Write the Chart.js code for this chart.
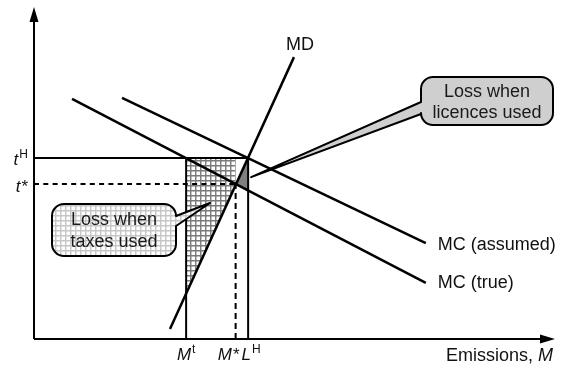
<!DOCTYPE html>
<html><head><meta charset="utf-8">
<script src="https://cdn.jsdelivr.net/npm/chart.js@4.4.0/dist/chart.umd.min.js"></script>
<style>html,body{margin:0;padding:0;background:#fff}#wrap{width:564px;height:365px;position:relative}</style>
</head><body><div id="wrap"><canvas id="c"></canvas></div>
<script>
// ---------- data (chart units) ----------
const X_MAX = 100, Y_MAX = 100;
const mdLine        = [{x:26.1,y:3.0},{x:49.9,y:84.9}];
const mcAssumedLine = [{x:16.9,y:72.6},{x:75.2,y:28.9}];
const mcTrueLine    = [{x:7.3,y:72.3},{x:75.2,y:16.9}];
const tH = 54.5, tStar = 46.7;
const mT = 29.2, mStar = 38.7, lH = 41.1;
const yTickLabels = [{base:'t',mark:'H',sup:true,value:tH},{base:'t',mark:'*',sup:false,value:tStar}];
const xTickLabels = [{base:'M',mark:'t',sup:true,value:mT},{base:'M',mark:'*',sup:false,value:mStar},{base:'L',mark:'H',sup:true,value:lH}];
const curveLabels = ['MD','MC (assumed)','MC (true)'];
const axisTitle = ['Emissions, ','M'];
const licencesText = ['Loss when','licences used'];
const taxesText = ['Loss when','taxes used'];

// ---------- helpers ----------
function yOn(l,x){const a=l[0],b=l[1];return a.y+(b.y-a.y)*(x-a.x)/(b.x-a.x);}
function inter(l1,l2){
  const s1=(l1[1].y-l1[0].y)/(l1[1].x-l1[0].x), s2=(l2[1].y-l2[0].y)/(l2[1].x-l2[0].x);
  const c1=l1[0].y-s1*l1[0].x, c2=l2[0].y-s2*l2[0].x;
  const x=(c2-c1)/(s1-s2); return {x:x,y:s1*x+c1};
}
const star = inter(mdLine, mcTrueLine);
const licencesLoss = [{x:lH,y:yOn(mdLine,lH)}, star, {x:lH,y:yOn(mcTrueLine,lH)}];
const taxesLoss = [{x:mT,y:tH},{x:mStar,y:tH},{x:mStar,y:yOn(mdLine,mStar)},{x:mT,y:yOn(mdLine,mT)}];

const FONT = '"Liberation Sans", Arial, sans-serif';
const FS = 18, TFS = 17;

function gridPattern(ctx, size, color, lw){
  const c=document.createElement('canvas'); c.width=size; c.height=size;
  const g=c.getContext('2d'); g.fillStyle='#fff'; g.fillRect(0,0,size,size);
  g.strokeStyle=color; g.lineWidth=lw;
  g.beginPath(); g.moveTo(0.75,0); g.lineTo(0.75,size); g.moveTo(0,0.75); g.lineTo(size,0.75); g.stroke();
  return ctx.createPattern(c,'repeat');
}

function calloutPath(ctx,L,T,R,B,r,side,b1,b2,tip){
  ctx.beginPath();
  ctx.moveTo(L+r,T);
  ctx.lineTo(R-r,T); ctx.arcTo(R,T,R,T+r,r);
  if(side==='right'){ ctx.lineTo(R,b1); ctx.lineTo(tip[0],tip[1]); ctx.lineTo(R,b2); }
  ctx.lineTo(R,B-r); ctx.arcTo(R,B,R-r,B,r);
  ctx.lineTo(L+r,B); ctx.arcTo(L,B,L,B-r,r);
  if(side==='left'){ ctx.lineTo(L,b2); ctx.lineTo(tip[0],tip[1]); ctx.lineTo(L,b1); }
  ctx.lineTo(L,T+r); ctx.arcTo(L,T,L+r,T,r);
  ctx.closePath();
}

function tickLabel(ctx,t,x,y,align){
  ctx.font='italic '+TFS+'px '+FONT;
  const w1=ctx.measureText(t.base).width;
  const supFont = t.sup ? '12px '+FONT : TFS+'px '+FONT;
  ctx.font=supFont; const w2=ctx.measureText(t.mark).width+1;
  let x0 = align==='right' ? x-(w1+w2) : x-(w1+w2)/2;
  ctx.textAlign='left'; ctx.textBaseline='alphabetic';
  ctx.font='italic '+TFS+'px '+FONT; ctx.fillText(t.base,x0,y);
  ctx.font=supFont; ctx.fillText(t.mark,x0+w1+1,t.sup? y-7 : y);
}

const overlay = {
  id:'overlay',
  beforeDatasetsDraw(chart){
    const ctx=chart.ctx, xs=chart.scales.x, ys=chart.scales.y;
    const P=p=>[xs.getPixelForValue(p.x), ys.getPixelForValue(p.y)];
    ctx.save();
    ctx.beginPath(); taxesLoss.forEach((p,i)=>{const q=P(p); i?ctx.lineTo(q[0],q[1]):ctx.moveTo(q[0],q[1]);}); ctx.closePath();
    ctx.fillStyle=gridPattern(ctx,5,'#7a7a7a',1.4); ctx.fill();
    ctx.beginPath(); licencesLoss.forEach((p,i)=>{const q=P(p); i?ctx.lineTo(q[0],q[1]):ctx.moveTo(q[0],q[1]);}); ctx.closePath();
    ctx.fillStyle='#808080'; ctx.fill();
    ctx.restore();
  },
  afterDatasetsDraw(chart){
    const ctx=chart.ctx, xs=chart.scales.x, ys=chart.scales.y;
    const px=v=>xs.getPixelForValue(v), py=v=>ys.getPixelForValue(v);
    ctx.save();
    ctx.fillStyle='#000';
    const ox=px(0), oy=py(0), topY=py(Y_MAX), rightX=px(X_MAX);
    ctx.beginPath(); ctx.moveTo(ox,topY); ctx.lineTo(ox-4.5,topY+15); ctx.lineTo(ox+4.5,topY+15); ctx.closePath(); ctx.fill();
    ctx.beginPath(); ctx.moveTo(rightX,oy); ctx.lineTo(rightX-15,oy-4.5); ctx.lineTo(rightX-15,oy+4.5); ctx.closePath(); ctx.fill();
    ctx.fillStyle='#111';
    tickLabel(ctx,yTickLabels[0],28,py(yTickLabels[0].value)+7,'right');
    tickLabel(ctx,yTickLabels[1],28,py(yTickLabels[1].value)+8,'right');
    const dxs=[0,-7,3];
    xTickLabels.forEach((t,i)=>tickLabel(ctx,t,px(t.value)+dxs[i],360,'center'));
    ctx.textBaseline='alphabetic';
    ctx.font='italic '+FS+'px '+FONT; const wm=ctx.measureText(axisTitle[1]).width;
    ctx.textAlign='right'; ctx.fillText(axisTitle[1],553,361);
    ctx.font=FS+'px '+FONT; ctx.fillText(axisTitle[0],553-wm,361);
    ctx.textAlign='center'; ctx.fillText(curveLabels[0],px(mdLine[1].x)+6,py(mdLine[1].y)-7);
    ctx.textAlign='left';
    ctx.fillText(curveLabels[1],px(mcAssumedLine[1].x)+12,py(mcAssumedLine[1].y)+7);
    ctx.fillText(curveLabels[2],px(mcTrueLine[1].x)+12,py(mcTrueLine[1].y)+5);
    const tipL=[px(lH)+3, (py(licencesLoss[0].y)+py(licencesLoss[2].y))/2+3];
    calloutPath(ctx,421,77,553,125,12,'left',102,114,tipL);
    ctx.fillStyle='#cfcfcf'; ctx.fill(); ctx.lineWidth=2; ctx.strokeStyle='#000'; ctx.lineJoin='round'; ctx.stroke();
    ctx.fillStyle='#1a1a1a'; ctx.textAlign='center'; ctx.font=FS+'px '+FONT;
    ctx.fillText(licencesText[0],487,97); ctx.fillText(licencesText[1],487,118);
    calloutPath(ctx,52,204,176,256,12,'right',216,226,[210,203]);
    ctx.fillStyle=gridPattern(ctx,5.5,'#c6c6c6',1.4); ctx.fill(); ctx.stroke();
    ctx.fillStyle='#1a1a1a';
    ctx.fillText(taxesText[0],114,225); ctx.fillText(taxesText[1],114,247);
    ctx.restore();
  }
};

const line=(data,w,dash)=>({data:data,showLine:true,borderColor:'#000',borderWidth:w,borderDash:dash||[],pointRadius:0,fill:false,clip:false,borderCapStyle:'butt'});

new Chart(document.getElementById('c'),{
  type:'scatter',
  data:{datasets:[
    line([{x:0,y:0},{x:0,y:Y_MAX-3}],2),
    line([{x:0,y:0},{x:X_MAX-2,y:0}],2),
    line([{x:0,y:tH},{x:lH,y:tH}],2),
    line([{x:mT,y:0},{x:mT,y:tH}],2),
    line([{x:lH,y:0},{x:lH,y:tH}],2),
    line([{x:0,y:tStar},{x:mStar,y:tStar}],2,[5,4.3]),
    line([{x:mStar,y:0},{x:mStar,y:tStar}],2,[6,4]),
    line(mdLine,2.5),
    line(mcAssumedLine,2.5),
    line(mcTrueLine,2.5)
  ]},
  options:{
    responsive:true, maintainAspectRatio:false, animation:false,
    layout:{padding:{left:34,top:7,right:9,bottom:26}},
    plugins:{legend:{display:false},tooltip:{enabled:false}},
    scales:{
      x:{type:'linear',min:0,max:X_MAX,display:false},
      y:{type:'linear',min:0,max:Y_MAX,display:false}
    }
  },
  plugins:[overlay]
});
</script></body></html>
